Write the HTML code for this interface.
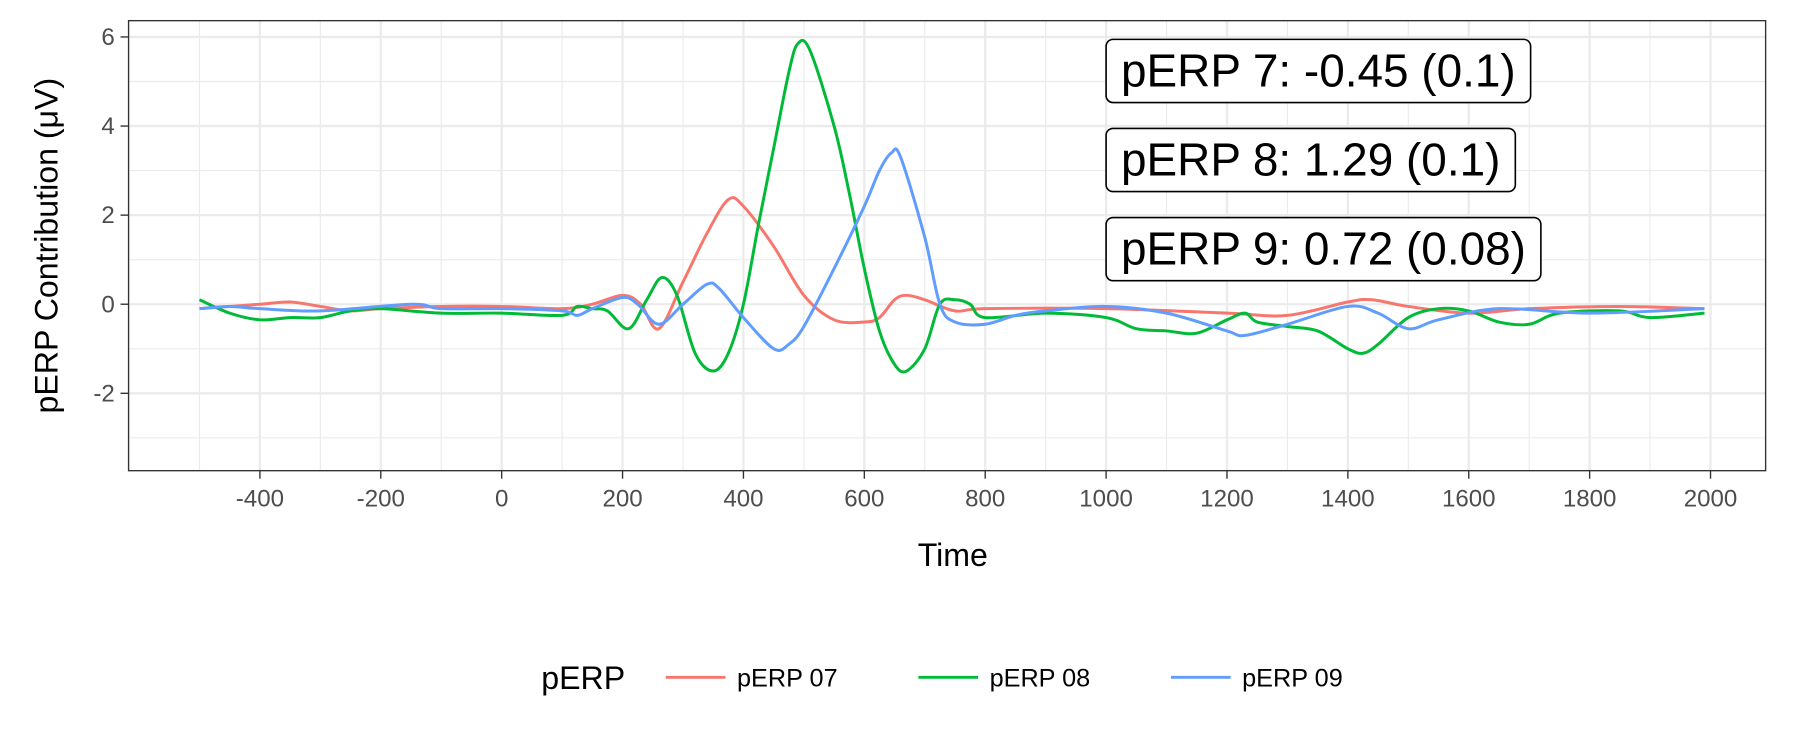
<!DOCTYPE html>
<html><head><meta charset="utf-8"><style>
body{margin:0;background:#fff;}
svg text{font-family:"Liberation Sans",sans-serif;}
</style></head><body>
<svg width="1800" height="750" xmlns="http://www.w3.org/2000/svg">
<rect width="1800" height="750" fill="#fff"/>
<g transform="scale(1.148)">
<g id="grid"></g>
<g id="series"></g>
<rect x="112" y="18" width="1426" height="392" fill="none" stroke="#333" stroke-width="1.2"/>
<g id="axes"></g>
<g id="labels"></g>
<text x="830" y="493" font-size="28" text-anchor="middle">Time</text>
<text transform="translate(50,214) rotate(-90)" font-size="28" text-anchor="middle">pERP Contribution (μV)</text>
<g>
<text x="508" y="600" font-size="28" text-anchor="middle">pERP</text>
<line x1="580" y1="590" x2="632" y2="590" stroke="#F8766D" stroke-width="2.6"/>
<text x="642" y="598" font-size="22">pERP 07</text>
<line x1="800" y1="590" x2="852" y2="590" stroke="#00BA38" stroke-width="2.6"/>
<text x="862" y="598" font-size="22">pERP 08</text>
<line x1="1020" y1="590" x2="1072" y2="590" stroke="#619CFF" stroke-width="2.6"/>
<text x="1082" y="598" font-size="22">pERP 09</text>
</g>
</g>
</svg>
<script>
const xTicks=[-400,-200,0,200,400,600,800,1000,1200,1400,1600,1800,2000];
const yTicks=[-2,0,2,4,6];
const t07=[-500,-450,-400,-350,-300,-250,-200,-100,0,100,150,200,230,260,300,340,375,400,450,500,550,600,625,650,670,700,750,800,1000,1200,1300,1400,1440,1500,1600,1700,1850,1990];
const v07=[-0.1,-0.05,0.0,0.05,-0.05,-0.15,-0.1,-0.05,-0.05,-0.1,0.0,0.2,0.0,-0.55,0.5,1.6,2.35,2.2,1.3,0.2,-0.35,-0.4,-0.3,0.1,0.2,0.1,-0.15,-0.1,-0.1,-0.2,-0.25,0.05,0.1,-0.05,-0.2,-0.1,-0.05,-0.1];
const t08=[-500,-450,-400,-350,-300,-250,-200,-100,0,100,125,150,175,210,240,265,290,320,350,375,400,425,450,475,490,510,550,575,600,625,650,670,700,725,750,775,800,900,1000,1050,1100,1150,1200,1230,1250,1300,1350,1400,1425,1450,1500,1550,1600,1650,1700,1750,1850,1900,1990];
const v08=[0.1,-0.2,-0.35,-0.3,-0.3,-0.15,-0.1,-0.2,-0.2,-0.25,-0.05,-0.1,-0.15,-0.55,0.1,0.6,0.2,-1.1,-1.5,-1.1,0.0,1.8,3.5,5.2,5.85,5.7,4.0,2.5,0.8,-0.6,-1.35,-1.5,-1.0,0.0,0.1,0.0,-0.3,-0.2,-0.3,-0.55,-0.6,-0.65,-0.35,-0.2,-0.4,-0.5,-0.6,-1.0,-1.1,-0.9,-0.3,-0.1,-0.15,-0.4,-0.45,-0.2,-0.15,-0.3,-0.2];
const t09=[-500,-450,-400,-300,-150,-100,0,100,125,150,200,225,260,300,340,360,400,450,475,500,550,600,625,645,660,700,725,750,800,850,900,1000,1100,1200,1230,1300,1400,1450,1500,1550,1650,1800,1990];
const v09=[-0.1,-0.05,-0.1,-0.15,0.0,-0.1,-0.1,-0.15,-0.25,-0.1,0.15,0.0,-0.45,0.0,0.45,0.35,-0.3,-1.0,-0.9,-0.5,0.8,2.2,3.0,3.4,3.3,1.5,0.0,-0.4,-0.45,-0.25,-0.15,-0.05,-0.2,-0.6,-0.7,-0.45,-0.05,-0.2,-0.55,-0.35,-0.1,-0.2,-0.1];
const annTexts=["pERP 7: -0.45 (0.1)","pERP 8: 1.29 (0.1)","pERP 9: 0.72 (0.08)"];
const annY=[5.25,3.25,1.25];
const X=t=>437+t*0.5265, Y=v=>265-v*38.8;
const NS="http://www.w3.org/2000/svg";
function mk(tag,attrs,parent){const e=document.createElementNS(NS,tag);for(const k in attrs)e.setAttribute(k,attrs[k]);parent.appendChild(e);return e;}
const g=document.getElementById('grid');
mk('rect',{x:112,y:18,width:1426,height:392,fill:'#fff'},g);
for(let t=-500;t<=2100;t+=100){const x=X(t);if(x<112||x>1538)continue;const major=(t%200===0);
const l=mk('line',{x1:x,x2:x,y1:18,y2:410,stroke:'#ebebeb','stroke-width':major?2:1},g);

}
for(let v=-3;v<=6;v+=1){const y=Y(v);const major=(v%2===0);
const l=mk('line',{x1:112,x2:1538,y1:y,y2:y,stroke:'#ebebeb','stroke-width':major?2:1},g);

}
const a=document.getElementById('axes');
xTicks.forEach(t=>{const x=X(t);
const l=mk('line',{x1:x,x2:x,y1:410,y2:417,stroke:'#333','stroke-width':1.2},a);

const tx=mk('text',{x:x,y:441,'font-size':21,fill:'#4d4d4d','text-anchor':'middle'},a);tx.textContent=t;
});
yTicks.forEach(v=>{const y=Y(v);
const l=mk('line',{x1:105,x2:112,y1:y,y2:y,stroke:'#333','stroke-width':1.2},a);

const tx=mk('text',{x:100,y:y+7,'font-size':21,fill:'#4d4d4d','text-anchor':'end'},a);tx.textContent=v;
});
function path(ts,vs){const p=ts.map((t,i)=>[X(t),Y(vs[i])]);let d='M'+p[0][0]+','+p[0][1];
for(let i=0;i<p.length-1;i++){const p0=p[Math.max(0,i-1)],p1=p[i],p2=p[i+1],p3=p[Math.min(p.length-1,i+2)];
d+=' C'+(p1[0]+(p2[0]-p0[0])/6)+','+(p1[1]+(p2[1]-p0[1])/6)+' '+(p2[0]-(p3[0]-p1[0])/6)+','+(p2[1]-(p3[1]-p1[1])/6)+' '+p2[0]+','+p2[1];}
return d;}
const s=document.getElementById('series');
[[t07,v07,'#F8766D','line-perp-07'],[t08,v08,'#00BA38','line-perp-08'],[t09,v09,'#619CFF','line-perp-09']].forEach(([ts,vs,c,n])=>{
const p=mk('path',{d:path(ts,vs),fill:'none',stroke:c,'stroke-width':2.6,'stroke-linejoin':'round'},s);
});
const lb=document.getElementById('labels');
annTexts.forEach((txt,i)=>{const y=Y(annY[i]);
const r=mk('rect',{x:X(1000),y:y-27,width:10,height:55,rx:6,fill:'#fff',stroke:'#000','stroke-width':1.4},lb);

const tx=mk('text',{x:X(1000)+13,y:y+14,'font-size':40},lb);tx.textContent=txt;

r.setAttribute('width',tx.getComputedTextLength()+26);});
</script>
</body></html>
